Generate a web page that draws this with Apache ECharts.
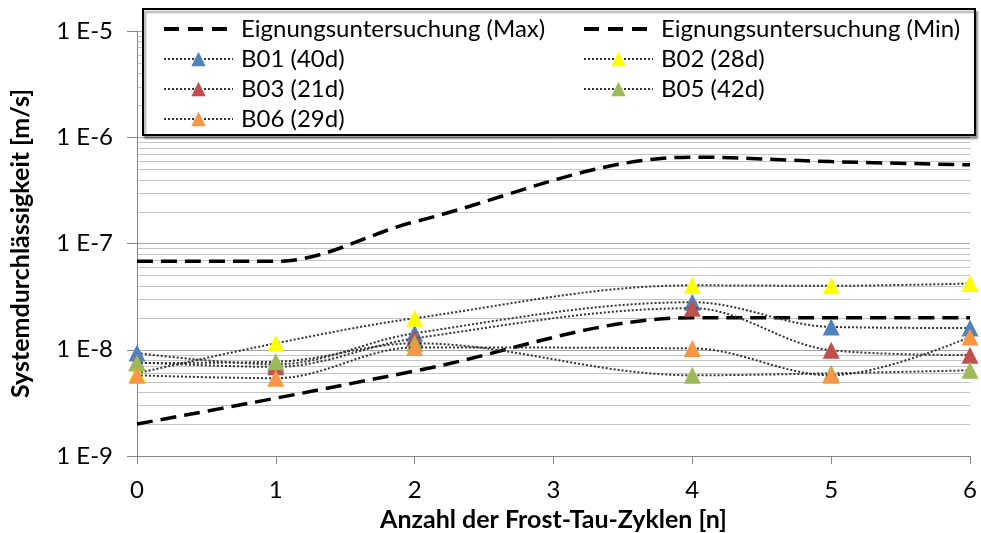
<!DOCTYPE html>
<html>
<head>
<meta charset="utf-8">
<script src="https://cdn.jsdelivr.net/npm/echarts@6/dist/echarts.min.js"></script>
<style>
html,body{margin:0;padding:0;background:#fff;}
#chart{width:981px;height:533px;}
</style>
</head>
<body>
<div id="chart"></div>
<script>
// ---- data ----
const xValues = [0, 1, 2, 4, 5, 6];
const xTicks = [0, 1, 2, 3, 4, 5, 6];
const yTickExponents = [-9, -8, -7, -6, -5];
const minorMultipliers = [2, 3, 4, 5, 6, 7, 8, 9];

const seriesNames = ['Eignungsuntersuchung (Max)', 'Eignungsuntersuchung (Min)',
  'B01 (40d)', 'B02 (28d)', 'B03 (21d)', 'B05 (42d)', 'B06 (29d)'];

const maxVals = [6.8e-8, 6.8e-8, 1.6e-7, 6.5e-7, 5.9e-7, 5.5e-7];
const minVals = [2.0e-9, 3.5e-9, 6.3e-9, 2.0e-8, 2.0e-8, 2.0e-8];
const b01 = [9.3e-9, 7.3e-9, 1.43e-8, 2.8e-8, 1.64e-8, 1.6e-8];
const b02 = [6.0e-9, 1.15e-8, 1.98e-8, 4.04e-8, 4.0e-8, 4.2e-8];
const b03 = [7.6e-9, 6.9e-9, 1.28e-8, 2.46e-8, 9.9e-9, 8.9e-9];
const b05 = [7.5e-9, 7.7e-9, 1.15e-8, 5.75e-9, 6.0e-9, 6.4e-9];
const b06 = [5.75e-9, 5.4e-9, 1.05e-8, 1.03e-8, 5.75e-9, 1.32e-8];

const colors = {
  b01: '#4F81BD', b02: '#FFFF00', b03: '#C0504D', b05: '#9BBB59', b06: '#F79646'
};

// ---- build ----
const pairs = vals => xValues.map((x, i) => [x, vals[i]]);
const FONT = 'Lato';

const minorTicks = [];
yTickExponents.slice(0, -1).forEach(e => {
  minorMultipliers.forEach(m => minorTicks.push(m * Math.pow(10, e)));
});

function dashSeries(name, vals) {
  return {
    name, type: 'line', data: pairs(vals), smooth: 0.35, symbol: 'none', z: 3,
    lineStyle: { color: '#000', width: 3.5, type: [16, 8] },
    itemStyle: { color: '#000' }
  };
}
function markerSeries(name, vals, color, z) {
  return {
    name, type: 'line', data: pairs(vals), smooth: 0.35,
    symbol: 'triangle', symbolSize: 17, z,
    lineStyle: { color: '#333', width: 2, type: [2, 2] },
    itemStyle: { color, borderWidth: 0 }
  };
}

const chart = echarts.init(document.getElementById('chart'), null, { renderer: 'canvas' });

const legendBase = {
  orient: 'vertical', top: 12, itemWidth: 69, itemHeight: 18, itemGap: 6,
  z: 60, selectedMode: false,
  textStyle: { fontFamily: FONT, fontSize: 24, color: '#000', lineHeight: 24, padding: [0, 0, 0, 3] }
};
const dashLegendItem = name => ({
  name, itemStyle: { opacity: 0 },
  lineStyle: { color: '#000', width: 4, type: [15, 9] }
});

chart.setOption({
  animation: false,
  backgroundColor: '#fff',
  grid: { left: 137, right: 11, top: 31, bottom: 77, containLabel: false, outerBoundsMode: 'none' },
  graphic: [{
    type: 'rect', z: 50, shape: { x: 143, y: 9, width: 832, height: 126 },
    style: { fill: '#fff', stroke: '#000', lineWidth: 2,
      shadowColor: 'rgba(0,0,0,0.35)', shadowOffsetX: 2, shadowOffsetY: 3, shadowBlur: 2 }
  }],
  legend: [
    Object.assign({}, legendBase, { left: 157,
      data: [dashLegendItem(seriesNames[0]), seriesNames[2], seriesNames[4], seriesNames[6]] }),
    Object.assign({}, legendBase, { left: 577,
      data: [dashLegendItem(seriesNames[1]), seriesNames[3], seriesNames[5]] })
  ],
  xAxis: {
    type: 'value', min: xTicks[0], max: xTicks[xTicks.length - 1], interval: 1,
    name: 'Anzahl der Frost-Tau-Zyklen [n]', nameLocation: 'middle', nameGap: 51,
    nameTextStyle: { fontFamily: FONT, fontSize: 25, fontWeight: 'bold', color: '#000' },
    axisLine: { lineStyle: { color: '#868686', width: 1 } },
    axisTick: { show: true, length: 8, lineStyle: { color: '#868686' } },
    axisLabel: { fontFamily: FONT, fontSize: 24, color: '#000', margin: 22 },
    splitLine: { show: false }
  },
  yAxis: {
    type: 'log', logBase: 10,
    min: Math.pow(10, yTickExponents[0]), max: Math.pow(10, yTickExponents[yTickExponents.length - 1]),
    name: 'Systemdurchlässigkeit [m/s]', nameLocation: 'middle', nameGap: 104,
    nameTextStyle: { fontFamily: FONT, fontSize: 25, fontWeight: 'bold', color: '#000' },
    axisLine: { show: true, lineStyle: { color: '#868686', width: 1 } },
    axisTick: { show: true, length: 10, lineStyle: { color: '#868686' } },
    axisLabel: {
      fontFamily: FONT, fontSize: 24, color: '#000', margin: 24,
      formatter: v => '1 E' + Math.round(Math.log10(v))
    },
    splitLine: { show: true, lineStyle: { color: '#A6A6A6', width: 1 } }
  },
  series: [
    {
      name: 'minorGrid', type: 'custom', z: 1, silent: true,
      data: minorTicks.map(v => [xTicks[0], v]),
      encode: { x: 0, y: 1 },
      renderItem: function (params, api) {
        const v = api.value(1);
        const p1 = api.coord([xTicks[0], v]);
        const p2 = api.coord([xTicks[xTicks.length - 1], v]);
        const y = Math.round(p1[1]) + 0.5;
        return {
          type: 'line',
          shape: { x1: p1[0] + 1, y1: y, x2: p2[0], y2: y },
          style: { stroke: '#C4C4C4', lineWidth: 1 }
        };
      }
    },
    dashSeries(seriesNames[0], maxVals),
    dashSeries(seriesNames[1], minVals),
    markerSeries(seriesNames[2], b01, colors.b01, 4),
    markerSeries(seriesNames[3], b02, colors.b02, 5),
    markerSeries(seriesNames[4], b03, colors.b03, 6),
    markerSeries(seriesNames[5], b05, colors.b05, 7),
    markerSeries(seriesNames[6], b06, colors.b06, 8)
  ]
});
</script>
</body>
</html>
